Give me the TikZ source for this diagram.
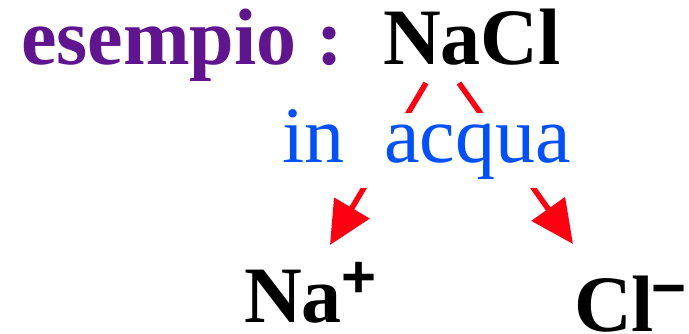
\documentclass[tikz,border=0pt]{standalone}
\usepackage{fontspec}
\setmainfont{LiberationSerif}[Extension=.ttf, UprightFont=*-Regular, BoldFont=*-Bold]
\newfontfamily\segno{LiberationSans}[Extension=.ttf, UprightFont=*-Regular, BoldFont=*-Bold]
\usepackage{xcolor}
\usetikzlibrary{arrows.meta,positioning}
\definecolor{viola}{RGB}{96,20,144}
\definecolor{blu}{RGB}{0,80,255}
\definecolor{rosso}{RGB}{255,0,16}
\newcommand{\carica}[2]{\raisebox{#1}{\segno\fontsize{60}{60}\selectfont\bfseries #2}}

\begin{document}
\begin{tikzpicture}[x=1pt,y=-1pt,
  big/.style={font=\fontsize{80}{80}\selectfont\bfseries, inner sep=0pt, anchor=base west},
  lab/.style={font=\fontsize{80}{80}\selectfont, text=blu, fill=white, inner sep=0pt,
    anchor=base west, text height=50pt, text depth=25pt},
  ion/.style={-{Triangle[length=43pt,width=40pt]}, line width=5.5pt, rosso}
]
\useasboundingbox (0,0) rectangle (689,334);

% Formula
\node[big, text=viola] (esempio) at (21,65) {esempio :};
\node[big] (nacl) at (383,65) {NaCl};

% Ions
\node[big] (na) at (244,323) {Na\carica{25pt}{+}};
\node[big] (cl) at (574,331) {Cl\kern-3pt\carica{23pt}{\char"2212}};

% Arrow ends
\coordinate (naTip) at (330,245);
\coordinate (clTip) at (573,244);

% Dissociation
\draw[ion] ([shift={(43,18)}]nacl.base west) -- (naTip);
\draw[ion] ([shift={(76,18)}]nacl.base west) -- (clTip);

% Label over the arrows
\node[lab] (acqua) at (282,163) {in\ \ acqua};
\end{tikzpicture}
\end{document}
